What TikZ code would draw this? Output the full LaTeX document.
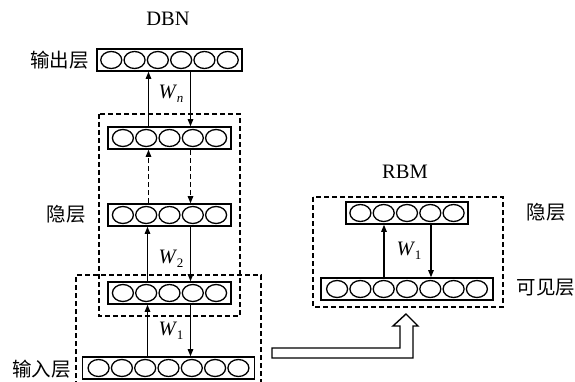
\documentclass[tikz,border=0pt]{standalone}
\usepackage{fontspec}
\setmainfont{Liberation Serif}
\newfontfamily\cjk{Noto Sans CJK SC}
\usetikzlibrary{arrows.meta,positioning,calc}
\newcommand{\neurons}[2]{%
  \foreach \k in {1,...,#2}{%
    \pgfmathsetmacro{\dx}{(\k-(#2+1)/2)*23.3}
    \draw[unit] ([xshift=\dx pt]#1.center) ellipse [x radius=10.5pt,y radius=8.5pt];}}
\newcommand{\weight}[1]{\textit{W}\kern-0.5pt\raisebox{-4.5pt}{\fontsize{13}{13}\selectfont #1}}

\begin{document}
\begin{tikzpicture}[x=1pt,y=-1pt,>={Triangle[length=7pt,width=5.5pt]},
  layer/.style={draw,line width=1.6pt,minimum height=22pt,inner sep=0pt},
  unit/.style={line width=1.3pt},
  frame/.style={line width=1.3pt,dash pattern=on 5pt off 3pt},
  link/.style={->,line width=1.1pt},
  latin/.style={font=\fontsize{20.5}{20.5}\selectfont},
  zh/.style={font=\cjk\fontsize{19.5}{19.5}\selectfont}]
\useasboundingbox (0,0) rectangle (575,382);
% DBN
\node[latin] (dbn) at (168,19) {DBN};
\node[layer,minimum width=145pt] (out) at (169.5,60) {};
\node[layer,minimum width=123pt] (h3) at (169.5,138) {};
\node[layer,minimum width=123pt] (h2) at (169.5,215) {};
\node[layer,minimum width=123pt] (h1) at (169.5,293) {};
\node[layer,minimum width=172pt] (in) at (168.5,368) {};
\neurons{out}{6}
\neurons{h3}{5}
\neurons{h2}{5}
\neurons{h1}{5}
\neurons{in}{7}
\node[zh] (outlab) at (59.5,60) {输出层};
\node[zh] (hidlab) at (66,214) {隐层};
\node[zh] (inlab) at (41.5,369) {输入层};
\draw[frame] (99,114) rectangle (240,316);
\draw[frame] (76,386) -- (76,275) -- (261,275) -- (261,386);
\draw[link] ([xshift=-21pt]h3.north) -- ([xshift=-21pt]out.south);
\draw[link] ([xshift=21pt]out.south) -- ([xshift=21pt]h3.north);
\draw[link,dash pattern=on 5pt off 3pt] ([xshift=-21pt]h2.north) -- ([xshift=-21pt]h3.south);
\draw[link,dash pattern=on 5pt off 3pt] ([xshift=21pt]h3.south) -- ([xshift=21pt]h2.north);
\draw[link] ([xshift=-22pt]h1.north) -- ([xshift=-22pt]h2.south);
\draw[link] ([xshift=21pt]h2.south) -- ([xshift=21pt]h1.north);
\draw[link] ([xshift=-21pt]in.north) -- ([xshift=-22pt]h1.south);
\draw[link] ([xshift=21pt]h1.south) -- ([xshift=22pt]in.north);
\node[latin] (wn) at (171,94) {\weight{\textit{n}}};
\node[latin] (w2) at (171,259) {\weight{2}};
\node[latin] (w1) at (171,331) {\weight{1}};
% RBM
\node[latin] (rbm) at (405,172) {RBM};
\node[layer,minimum width=122pt] (rh) at (407,213) {};
\node[layer,minimum width=172pt] (rv) at (407,289) {};
\neurons{rh}{5}
\neurons{rv}{7}
\draw[frame] (313,197) rectangle (503,307);
\node[zh] (rhlab) at (546,212) {隐层};
\node[zh] (rvlab) at (546,288) {可见层};
\draw[link] ([xshift=-23pt]rv.north) -- ([xshift=-23pt]rh.south);
\draw[link] ([xshift=24pt]rh.south) -- ([xshift=24pt]rv.north);
\node[latin] (rw1) at (409,251) {\weight{1}};
% block arrow
\coordinate (bstart) at (272,348);
\draw[line width=1.4pt,fill=white] (bstart) -- ++(128,0) -- ++(0,-22) -- ++(-7,0)
  -- ++(13,-12) -- ++(12,12) -- ++(-5,0) -- ++(0,32) -- ++(-141,0) -- cycle;
\end{tikzpicture}
\end{document}
